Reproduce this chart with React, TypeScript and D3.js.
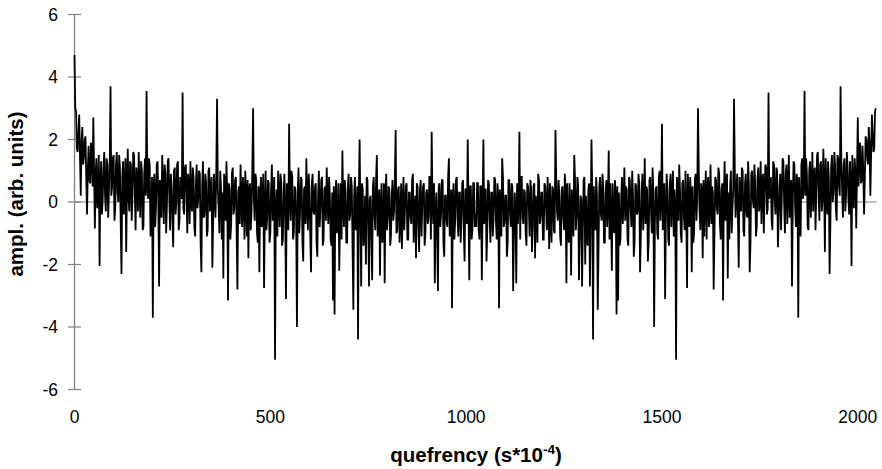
import React from "react";
import * as d3 from "d3";

// quefrency sampled every 2 units (s*10^-4)
const QUEFRENCY_STEP = 2;

// amplitude, quefrency 0 .. 1024
const amplFirstHalf: number[] = [
  4.7, 3.0, 2.9, 1.7, 1.6, 2.2, 2.8, 1.5, 0.2, 1.9,
  2.4, 1.2, 1.4, 2.0, 2.1, 0.8, -0.4, 1.0, 1.8, 0.7,
  0.6, 1.9, 1.5, 0.5, 2.7, 1.0, -0.85, 0.9, 1.4, -0.2,
  0.3, 1.5, -2.05, 0.6, 1.3, -0.4, 0.1, 1.1, 1.6, 0.2,
  -0.3, 1.4, 1.2, -0.5, 0.4, 1.3, 3.7, 0.2, 0.5, 1.4,
  1.5, -0.6, -0.2, 1.2, 1.6, 0.3, 0.0, 1.5, 1.1, -0.7,
  -2.3, 0.8, 1.3, -0.4, 0.4, 1.4, -1.6, 0.5, 1.7, 0.1,
  -0.3, 1.3, 1.2, -0.6, 0.2, 1.6, 1.5, 0.3, -0.9, 1.1,
  0.8, -0.3, 1.6, 0.4, -0.5, 1.3, 1.0, -0.9, -0.8, 0.9,
  1.4, 0.2, 3.55, 0.6, 0.1, 1.4, 1.2, -1.1, -0.6, 0.8,
  -3.7, 0.5, 0.9, -0.8, -0.2, 1.2, 1.3, 0.0, -2.7, 0.7,
  0.6, -0.5, 1.5, 0.4, -0.7, 1.2, 0.9, -1.0, -0.1, 1.3,
  1.4, 0.2, -0.9, 0.9, 0.5, -0.6, -1.45, 1.0, 1.1, -0.4,
  0.0, 1.2, 1.3, -0.9, -0.6, 0.8, 0.7, 0.1, 3.5, -0.2,
  -0.4, 1.1, 1.2, 0.3, -1.0, 0.9, 0.6, -0.7, 1.3, 0.0,
  -0.3, 1.1, 0.8, -0.8, -1.1, 0.6, 1.2, -0.2, 0.1, 1.0,
  0.9, -1.3, -2.25, 0.5, 1.3, -0.5, -0.4, 0.9, 0.6, -1.1,
  -0.9, 1.0, 1.1, -0.3, 0.2, 0.8, -2.1, -0.6, 0.9, 0.2,
  -0.5, 1.0, 3.3, 0.4, -0.2, -1.0, 1.0, 0.5, -1.2, 0.3,
  -2.45, 0.9, 0.7, -0.6, 1.3, 0.2, -3.15, 0.6, 0.4, -1.2,
  -0.7, 0.9, 1.1, -0.4, -0.2, 0.7, 0.8, -1.0, -2.8, 0.3,
  0.5, -0.7, 1.2, 0.0, -0.8, 0.8, 0.3, -1.2, 1.0, 0.2,
  -1.1, 0.7, -1.8, 0.4, 0.6, -0.9, -0.3, 1.0, 3.0, 0.1,
  -0.6, 0.9, 0.7, -1.0, -1.3, 0.5, -2.25, 0.2, 0.8, -0.8,
  0.1, 0.9, -2.75, -0.3, 1.0, -0.9, -0.5, 0.7, 0.6, -1.3,
  -1.0, 0.4, 1.2, -0.6, 0.3, 0.8, -5.05, -0.2, 0.4, -1.1,
  1.0, 0.2, -0.8, 0.9, 0.6, -1.4, -1.2, 0.3, 0.9, -0.5,
  -3.1, 0.6, 0.2, -0.9, 2.5, 0.1, -0.6, 1.0, 0.8, -1.2,
  -1.0, 0.5, 0.4, -0.6, -4.0, 0.3, 1.1, -1.0, -0.3, 0.8,
  0.7, -1.3, -1.9, 0.4, 0.5, -0.7, 1.4, 0.0, -0.9, 0.9,
  0.3, -1.1, -2.25, 0.6, 0.9, -0.3, -0.4, 0.5, 0.6, -1.3,
  -1.75, 0.2, 1.0, -0.8, -0.2, 0.7, 0.8, -1.4, -1.2, 0.4,
  0.5, -0.6, 1.1, 0.1, -0.7, 0.8, 0.2, -1.2, -1.4, 0.3,
  -3.15, 0.5, -3.6, 0.1, 0.7, -1.0, -0.5, 0.6, -2.2, -0.4,
  0.6, -1.2, 1.65, 0.0, -0.8, 0.7, 0.3, -1.3, -1.3, 0.5,
  0.9, -0.6, -0.4, 0.8, 0.5, -1.5, -3.45, 0.2, 0.8, -0.9,
  -0.6, 0.5, -4.4, 0.3, 2.0, -0.5, -2.7, 0.6, 0.4, -1.4,
  -1.0, 0.2, -2.0, 0.8, 0.7, -0.8, -2.7, 0.1, 0.2, -1.2,
  -2.5, 0.5, 0.8, -0.4, -0.9, 0.7, 1.5, -1.1, -0.3, 0.4,
  -2.35, -0.2, 0.6, -1.3, -0.8, 0.6, -2.6, 0.3, 0.9, -0.9,
  -0.5, 0.5, 0.4, -1.4, -1.1, 0.2, 0.7, -0.6, -0.3, 0.8,
  2.3, -1.0, -0.9, 0.4, 0.5, -1.3, -0.6, 0.6, -1.5, -0.1,
  0.8, -0.9, -0.2, 0.5, 0.6, -1.2, -1.2, 0.3, 0.3, -0.5,
  -0.7, 0.7, 0.9, -1.3, -0.4, 0.2, -1.8, 0.6, 0.5, -0.8,
  -1.6, 0.4, 0.7, -1.1, -0.1, 0.5, 0.6, -1.4, -1.0, 0.3,
  0.4, -0.7, -0.5, 0.8, 0.8, -1.2, 2.25, 0.0, -0.7, 0.6,
  -2.6, -0.3, 0.3, -1.0, -2.85, 0.5, 0.6, -0.8, -0.4, 0.7,
  0.7, -1.3, -1.75, 0.2, 0.2, -0.6, -0.8, 0.8, 1.4, -1.1,
  -0.3, 0.4, -3.4, 0.1, 0.6, -1.2, -0.6, 0.7, 0.8, -0.5,
  -1.1, 0.3, 0.3, -1.3, -0.5, 0.6, 0.7, -0.9, -1.9, 0.4,
  0.4, -0.7, 2.0, -0.2, -2.5, 0.5, 0.5, -1.2, -0.9, 0.6,
  0.6, -0.8, -0.4,
];

// amplitude, quefrency 1026 .. 2046
const amplSecondHalf: number[] = [
  -0.8, 0.6, 0.6, -0.9, -1.2, 0.5, 0.5, -2.5, -0.2, 2.0,
  -0.7, 0.4, 0.4, -1.9, -0.9, 0.7, 0.6, -0.5, -1.3, 0.3,
  0.3, -1.1, -0.5, 0.8, 0.7, -0.6, -1.2, 0.6, 0.1, -3.4,
  0.4, -0.3, -1.1, 1.4, 0.8, -0.8, -0.6, 0.2, 0.2, -1.75,
  -1.3, 0.7, 0.7, -0.4, -0.8, 0.6, 0.5, -2.85, -1.0, 0.3,
  -0.3, -2.6, 0.6, -0.7, 0.0, 2.25, -1.2, 0.8, 0.8, -0.5,
  -0.7, 0.4, 0.3, -1.0, -1.4, 0.6, 0.5, -0.1, -1.1, 0.7,
  0.4, -1.6, -0.8, 0.5, 0.6, -1.8, 0.2, -0.4, -1.3, 0.9,
  0.7, -0.7, -0.5, 0.3, 0.3, -1.2, -1.2, 0.6, 0.5, -0.2,
  -0.9, 0.8, -0.1, -1.5, 0.6, -0.6, -1.3, 0.5, 0.4, -0.9,
  -1.0, 2.3, 0.8, -0.3, -0.6, 0.7, 0.2, -1.1, -1.4, 0.4,
  0.5, -0.5, -0.9, 0.9, 0.3, -2.6, 0.6, -0.8, -1.3, 0.6,
  -0.2, -2.35, 0.4, -0.3, -1.1, 1.5, 0.7, -0.9, -0.4, 0.8,
  0.5, -2.5, -1.2, 0.2, 0.1, -2.7, -0.8, 0.7, 0.8, -2.0,
  0.2, -1.0, -1.4, 0.4, 0.6, -2.7, -0.5, 2.0, 0.3, -4.4,
  0.5, -0.6, -0.9, 0.8, 0.2, -3.45, -1.5, 0.5, 0.8, -0.4,
  -0.6, 0.9, 0.5, -1.3, -1.3, 0.3, 0.7, -0.8, 0.0, 1.65,
  -1.2, 0.6, -0.4, -2.2, 0.6, -0.5, -1.0, 0.7, 0.1, -3.6,
  0.5, -3.15, 0.3, -1.4, -1.2, 0.2, 0.8, -0.7, 0.1, 1.1,
  -0.6, 0.5, 0.4, -1.2, -1.4, 0.8, 0.7, -0.2, -0.8, 1.0,
  0.2, -1.75, -1.3, 0.6, 0.5, -0.4, -0.3, 0.9, 0.6, -2.25,
  -1.1, 0.3, 0.9, -0.9, 0.0, 1.4, -0.7, 0.5, 0.4, -1.9,
  -1.3, 0.7, 0.8, -0.3, -1.0, 1.1, 0.3, -4.0, -0.6, 0.4,
  0.5, -1.0, -1.2, 0.8, 1.0, -0.6, 0.1, 2.5, -0.9, 0.2,
  0.6, -3.1, -0.5, 0.9, 0.3, -1.2, -1.4, 0.6, 0.9, -0.8,
  0.2, 1.0, -1.1, 0.4, -0.2, -5.05, 0.8, 0.3, -0.6, 1.2,
  0.4, -1.0, -1.3, 0.6, 0.7, -0.5, -0.9, 1.0, -0.3, -2.75,
  0.9, 0.1, -0.8, 0.8, 0.2, -2.25, 0.5, -1.3, -1.0, 0.7,
  0.9, -0.6, 0.1, 3.0, 1.0, -0.3, -0.9, 0.6, 0.4, -1.8,
  0.7, -1.1, 0.2, 1.0, -1.2, 0.3, 0.8, -0.8, 0.0, 1.2,
  -0.7, 0.5, 0.3, -2.8, -1.0, 0.8, 0.7, -0.2, -0.4, 1.1,
  0.9, -0.7, -1.2, 0.4, 0.6, -3.15, 0.2, 1.3, -0.6, 0.7,
  0.9, -2.45, 0.3, -1.2, 0.5, 1.0, -1.0, -0.2, 0.4, 3.3,
  1.0, -0.5, 0.2, 0.9, -0.6, -2.1, 0.8, 0.2, -0.3, 1.1,
  1.0, -0.9, -1.1, 0.6, 0.9, -0.4, -0.5, 1.3, 0.5, -2.25,
  -1.3, 0.9, 1.0, 0.1, -0.2, 1.2, 0.6, -1.1, -0.8, 0.8,
  1.1, -0.3, 0.0, 1.3, -0.7, 0.6, 0.9, -1.0, 0.3, 1.2,
  1.1, -0.4, -0.2, 3.5, 0.1, 0.7, 0.8, -0.6, -0.9, 1.3,
  1.2, 0.0, -0.4, 1.1, 1.0, -1.45, -0.6, 0.5, 0.9, -0.9,
  0.2, 1.4, 1.3, -0.1, -1.0, 0.9, 1.2, -0.7, 0.4, 1.5,
  -0.5, 0.6, 0.7, -2.7, 0.0, 1.3, 1.2, -0.2, -0.8, 0.9,
  0.5, -3.7, 0.8, -0.6, -1.1, 1.2, 1.4, 0.1, 0.6, 3.55,
  0.2, 1.4, 0.9, -0.8, -0.9, 1.0, 1.3, -0.5, 0.4, 1.6,
  -0.3, 0.8, 1.1, -0.9, 0.3, 1.5, 1.6, 0.2, -0.6, 1.2,
  1.3, -0.3, 0.1, 1.7, 0.5, -1.6, 1.4, 0.4, -0.4, 1.3,
  0.8, -2.3, -0.7, 1.1, 1.5, 0.0, 0.3, 1.6, 1.2, -0.2,
  -0.6, 1.5, 1.4, 0.5, 0.2, 3.7, 1.3, 0.4, -0.5, 1.2,
  1.4, -0.3, 0.2, 1.6, 1.1, 0.1, -0.4, 1.3, 0.6, -2.05,
  1.5, 0.3, -0.2, 1.4, 0.9, -0.85, 1.0, 2.7, 0.5, 1.5,
  1.9, 0.6, 0.7, 1.8, 1.0, -0.4, 0.8, 2.1, 2.0, 1.4,
  1.2, 2.4, 1.9, 0.2, 1.5, 2.8, 2.2, 1.6, 1.7, 2.9,
  3.0,
];

const xTicks = [0, 500, 1000, 1500, 2000];
const yTicks = [-6, -4, -2, 0, 2, 4, 6];
const xTitle = "quefrency (s*10";
const xTitleSup = "-4";
const yTitle = "ampl. (arb. units)";

const W = 882;
const H = 469;

export default function App() {
  const ampl = [...amplFirstHalf, ...amplSecondHalf];
  const points: [number, number][] = ampl.map((v, i) => [i * QUEFRENCY_STEP, v]);

  const x = d3.scaleLinear().domain([0, 2000]).range([74.5, 857.8]);
  const y = d3.scaleLinear().domain([-6, 6]).range([389.5, 14.5]);
  const xMax = 2048;

  const line = d3
    .line<[number, number]>()
    .x((d) => x(d[0]))
    .y((d) => y(d[1]));

  const font = "'Liberation Sans', Arial, Helvetica, sans-serif";
  const axisColor = "#808080";

  return (
    <svg
      width={W}
      height={H}
      style={{ position: "absolute", left: 0, top: 0, background: "#fff" }}
      fontFamily={font}
    >
      <rect x={0} y={0} width={W} height={H} fill="#fff" />
      {/* zero line */}
      <line x1={x(0)} x2={x(xMax)} y1={y(0)} y2={y(0)} stroke={axisColor} strokeWidth={1.2} />
      {/* y axis */}
      <line x1={x(0)} x2={x(0)} y1={y(6)} y2={y(-6)} stroke={axisColor} strokeWidth={1.3} />
      {yTicks.map((t) => (
        <g key={t}>
          <line x1={x(0) - 6.5} x2={x(0) + 6.5} y1={y(t)} y2={y(t)} stroke={axisColor} strokeWidth={1.2} />
          <text x={58} y={y(t) + 6.3} textAnchor="end" fontSize={17.5} fill="#000">
            {t}
          </text>
        </g>
      ))}
      {xTicks.map((t) => (
        <text key={t} x={x(t)} y={422.7} textAnchor="middle" fontSize={17.5} fill="#000">
          {t}
        </text>
      ))}
      {/* data */}
      <path d={line(points) || ""} fill="none" stroke="#000" strokeWidth={1.8} />
      {/* titles */}
      <text x={476} y={461.5} textAnchor="middle" fontSize={20.5} fontWeight="bold" fill="#000">
        {xTitle}
        <tspan fontSize={13.5} dy={-8}>{xTitleSup}</tspan>
        <tspan dy={8}>)</tspan>
      </text>
      <text
        transform={`translate(22.5, 194) rotate(-90)`}
        textAnchor="middle"
        fontSize={20.5}
        fontWeight="bold"
        fill="#000"
      >
        {yTitle}
      </text>
    </svg>
  );
}
